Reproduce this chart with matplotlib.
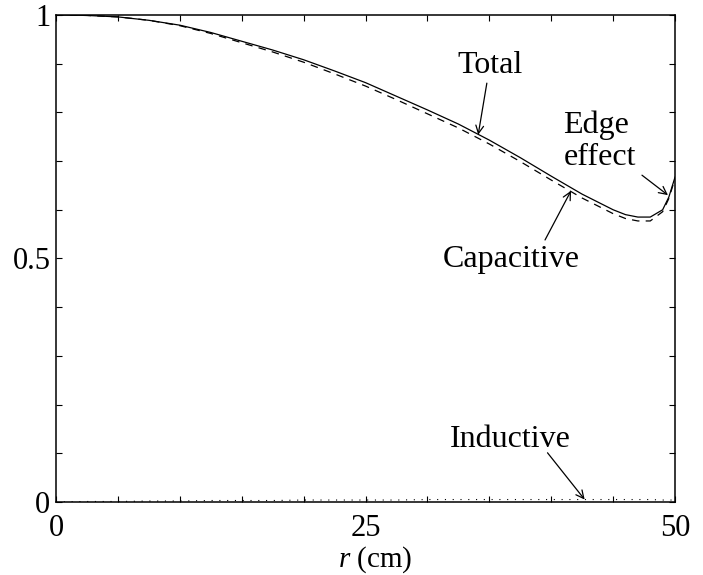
import numpy as np
import matplotlib.pyplot as plt

plt.rcParams['font.family'] = ['Liberation Serif', 'DejaVu Serif']
plt.rcParams['mathtext.fontset'] = 'custom'
plt.rcParams['mathtext.it'] = 'Liberation Serif:italic'
plt.rcParams['mathtext.rm'] = 'Liberation Serif'

# radial position (cm)
r = [0, 2.5, 5, 7.5, 10, 12.5, 15, 17.5, 20, 22.5, 25, 27.5, 30, 32.5,
     35, 37.5, 40, 42.5, 45, 46, 47, 48, 49, 49.5, 50]
total = [1.000, 0.999, 0.996, 0.989, 0.979, 0.964, 0.946, 0.928, 0.908,
         0.885, 0.861, 0.833, 0.805, 0.776, 0.743, 0.707, 0.669, 0.632,
         0.600, 0.590, 0.585, 0.585, 0.600, 0.626, 0.667]
capacitive = [1.000, 0.999, 0.996, 0.989, 0.978, 0.962, 0.943, 0.924, 0.903,
              0.879, 0.854, 0.826, 0.797, 0.768, 0.735, 0.699, 0.661, 0.624,
              0.592, 0.582, 0.577, 0.577, 0.596, 0.623, 0.664]
inductive = [0.000, 0.001, 0.001, 0.002, 0.002, 0.003, 0.003, 0.003, 0.004,
             0.004, 0.004, 0.004, 0.005, 0.005, 0.005, 0.005, 0.005, 0.005,
             0.005, 0.005, 0.005, 0.005, 0.004, 0.004, 0.004]

fig = plt.figure(figsize=(7.03, 5.75), dpi=100)
ax = fig.add_axes([0.0797, 0.127, 0.8805, 0.847])

ax.plot(r, total, 'k-', lw=0.9)
ax.plot(r, capacitive, 'k--', lw=0.9, dashes=(6, 5))
ax.plot(r, inductive, 'k:', lw=0.8, dashes=(1, 6))

ax.set_xlim(0, 50)
ax.set_ylim(0, 1)
ax.set_xticks(np.arange(0, 51, 5))
ax.set_xticklabels(['0', '', '', '', '', '25', '', '', '', '', '50'])
ax.set_yticks(np.arange(0, 1.01, 0.1))
ax.set_yticklabels(['0', '', '', '', '', '0.5', '', '', '', '', '1'])
ax.tick_params(direction='in', length=4, width=0.8, labelsize=22,
               top=True, right=True)
ax.tick_params(axis='x', pad=9)
ax.tick_params(axis='y', pad=4)
for s in ax.spines.values():
    s.set_linewidth(1.1)

ax.set_xlabel(r'$\it{r}$ (cm)', fontsize=21)
ax.xaxis.set_label_coords(0.515, -0.088)
ax.xaxis.label.set_va('top')

fs = 23
arrow = dict(arrowstyle='->', lw=0.9, color='k', shrinkA=0, shrinkB=0,
             mutation_scale=14)

ax.text(35.1, 0.881, 'Total', fontsize=fs, ha='center', va='baseline')
ax.annotate('', xy=(34.1, 0.754), xytext=(34.8, 0.860), arrowprops=arrow)

ax.text(36.75, 0.4825, 'Capacitive', fontsize=fs, ha='center', va='baseline')
ax.annotate('', xy=(41.6, 0.639), xytext=(39.5, 0.538), arrowprops=arrow)

ax.text(40.95, 0.758, 'Edge', fontsize=fs, ha='left', va='baseline')
ax.text(41.05, 0.692, 'effect', fontsize=fs, ha='left', va='baseline')
ax.annotate('', xy=(49.43, 0.630), xytext=(47.33, 0.671), arrowprops=arrow)

ax.text(36.7, 0.113, 'Inductive', fontsize=fs, ha='center', va='baseline')
ax.annotate('', xy=(42.7, 0.005), xytext=(39.7, 0.101), arrowprops=arrow)

fig.savefig('out.png', dpi=100)
